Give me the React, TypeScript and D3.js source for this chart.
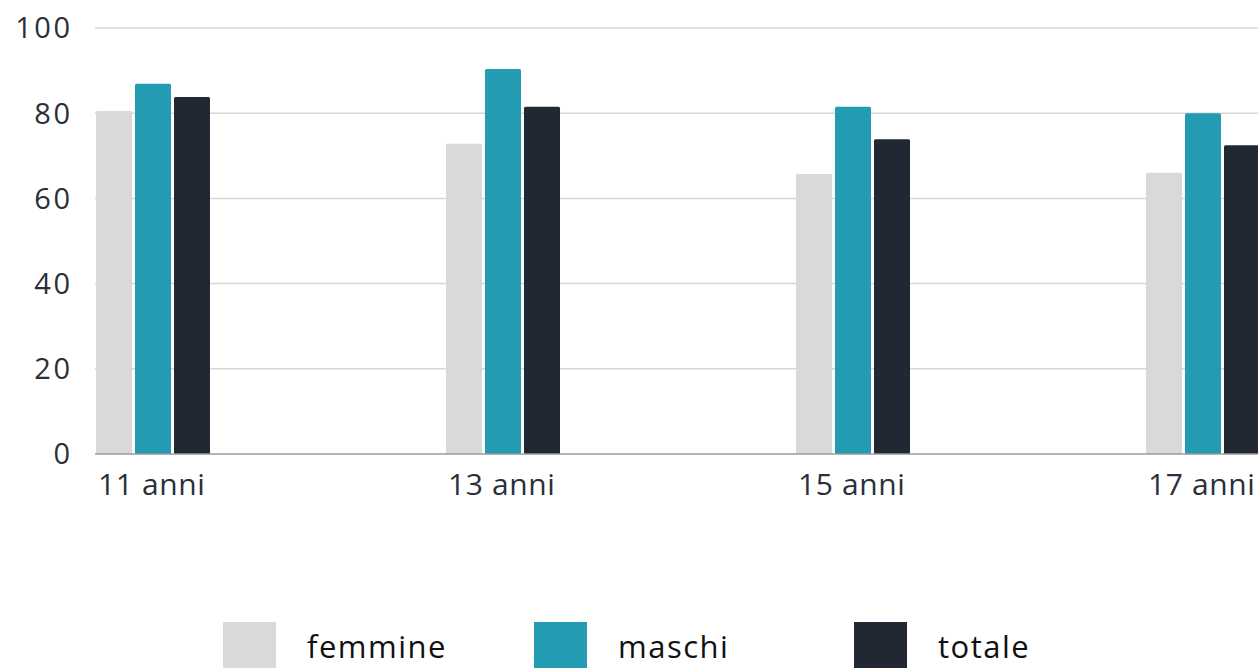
import React from "react";
import * as d3 from "d3";

const categories = ["11 anni", "13 anni", "15 anni", "17 anni"];
const seriesNames = ["femmine", "maschi", "totale"];
const femmine = [80.5, 72.8, 65.7, 66.0];
const maschi = [86.9, 90.4, 81.5, 80.0];
const totale = [83.8, 81.5, 73.9, 72.5];
const yTicks = [0, 20, 40, 60, 80, 100];
const colors = ["#d9d9d7", "#239bb2", "#212733"];

export default function App() {
  const W = 1258, H = 668;
  const values = [femmine, maschi, totale];
  const y = d3.scaleLinear().domain([0, 100]).range([454, 28]);
  const x0 = d3.scaleBand().domain(categories).range([96, 96 + 350 * categories.length]).padding(0);
  const x1 = d3.scaleBand().domain(seriesNames).range([0, 114]).paddingInner(0.077).paddingOuter(0);
  const font = "'Open Sans', sans-serif";
  const legendX = [223, 534, 854];
  return (
    <svg width={W} height={H} style={{ position: "absolute", left: 0, top: 0, background: "#fff" }}>
      {yTicks.map((t) => (
        <g key={t}>
          {t !== 0 && <line x1={95} x2={W} y1={y(t)} y2={y(t)} stroke="#d6d6d6" strokeWidth={1.5} />}
          <text x={72.5} y={y(t)} dy="0.36em" textAnchor="end" fontFamily={font} fontSize={29} letterSpacing={2.5} fill="#2a2f3a">{t}</text>
        </g>
      ))}
      {categories.map((c, i) => (
        <g key={c} transform={`translate(${x0(c)},0)`}>
          {seriesNames.map((s, j) => (
            <rect key={s} x={x1(s)} y={y(values[j][i])} width={x1.bandwidth()} height={y(0) - y(values[j][i])} fill={colors[j]} rx={1.5} />
          ))}
          <text x={2} y={495} fontFamily={font} fontSize={30} letterSpacing={0.6} fill="#2a2f3a">{c}</text>
        </g>
      ))}
      <line x1={95} x2={W} y1={y(0)} y2={y(0)} stroke="#9a9a9a" strokeWidth={1.5} />
      {seriesNames.map((s, j) => (
        <g key={s}>
          <rect x={legendX[j]} y={622} width={53} height={50} fill={colors[j]} />
          <text x={legendX[j] + 84} y={658} fontFamily={font} fontSize={31} letterSpacing={1.5} fill="#111">{s}</text>
        </g>
      ))}
    </svg>
  );
}
